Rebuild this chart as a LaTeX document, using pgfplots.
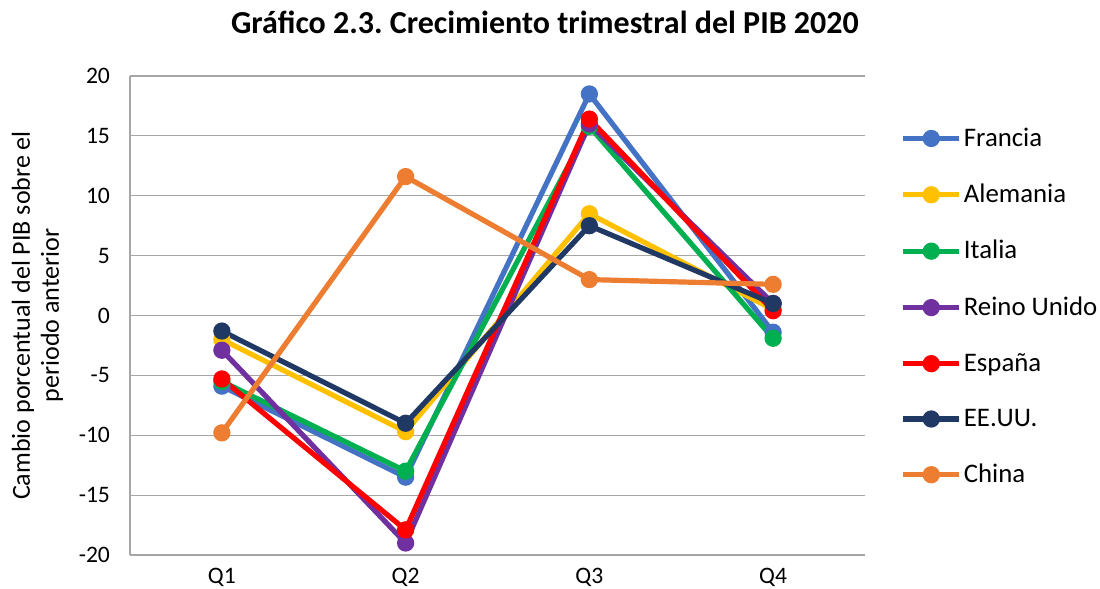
\documentclass[border=0pt]{standalone}
\usepackage{pgfplots}
\pgfplotsset{compat=1.18}
\usepackage{fontspec}
\setmainfont{Carlito}
\frenchspacing
\definecolor{cFr}{HTML}{4472C4}
\definecolor{cDe}{HTML}{FFC000}
\definecolor{cIt}{HTML}{00B050}
\definecolor{cUk}{HTML}{7030A0}
\definecolor{cEs}{HTML}{FF0000}
\definecolor{cUs}{HTML}{203864}
\definecolor{cCn}{HTML}{ED7D31}
\definecolor{gridc}{HTML}{A6A6A6}
\begin{document}
\begin{tikzpicture}
\path[use as bounding box] (-65pt,-17pt) rectangle (485pt,277.5pt);
\begin{axis}[
  at={(0,0)}, anchor=south west,
  scale only axis, width=367.5pt, height=239.5pt,
  xmin=-0.5, xmax=3.5, ymin=-20, ymax=20,
  xtick={0,1,2,3}, xticklabels={Q1,Q2,Q3,Q4},
  ytick={-20,-15,...,20},
  axis x line*=bottom, axis y line*=left,
  axis line style={gridc, line width=0.6pt, -},
  ymajorgrids, grid style={gridc, line width=0.6pt},
  major tick length=0pt,
  tick label style={font=\fontsize{11.8pt}{13pt}\selectfont},
  yticklabel style={xshift=-6.5pt},
  xticklabel style={yshift=-3pt},
  /pgf/number format/assume math mode=true,
  ylabel={Cambio porcentual del PIB sobre el\\periodo anterior},
  ylabel style={at={(axis description cs:-0.126,0.5)}, anchor=center, align=center, font=\fontsize{13pt}{14.5pt}\selectfont},
  every axis plot/.append style={line width=2.6pt, mark=*, mark size=3pt},
  legend style={at={(axis description cs:1.048,0.897)}, anchor=north west, draw=none, fill=none, inner sep=0pt,
     font=\fontsize{13.4pt}{15pt}\selectfont, row sep=15.4pt, nodes={inner sep=1pt}},
  legend cell align=left,
  legend image code/.code={\draw[mark repeat=2,mark phase=2] plot coordinates {(0pt,0pt)(14pt,0pt)(28pt,0pt)};},
  clip=false,
]
\addplot[cFr] coordinates {(0,-5.9) (1,-13.5) (2,18.5) (3,-1.4)};
\addplot[cDe] coordinates {(0,-2.0) (1,-9.7) (2,8.5) (3,0.5)};
\addplot[cIt] coordinates {(0,-5.5) (1,-13.0) (2,15.8) (3,-1.9)};
\addplot[cUk] coordinates {(0,-2.9) (1,-19.0) (2,16.0) (3,1.0)};
\addplot[cEs] coordinates {(0,-5.3) (1,-17.9) (2,16.4) (3,0.4)};
\addplot[cUs] coordinates {(0,-1.3) (1,-9.0) (2,7.5) (3,1.0)};
\addplot[cCn] coordinates {(0,-9.8) (1,11.6) (2,3.0) (3,2.6)};
\legend{Francia,Alemania,Italia,Reino Unido,España,EE.UU.,China}
\end{axis}
\node[font=\bfseries\fontsize{16pt}{18pt}\selectfont] at (207.5pt,266.5pt) {Gráfico 2.3. Crecimiento trimestral del PIB 2020};
\end{tikzpicture}
\end{document}
